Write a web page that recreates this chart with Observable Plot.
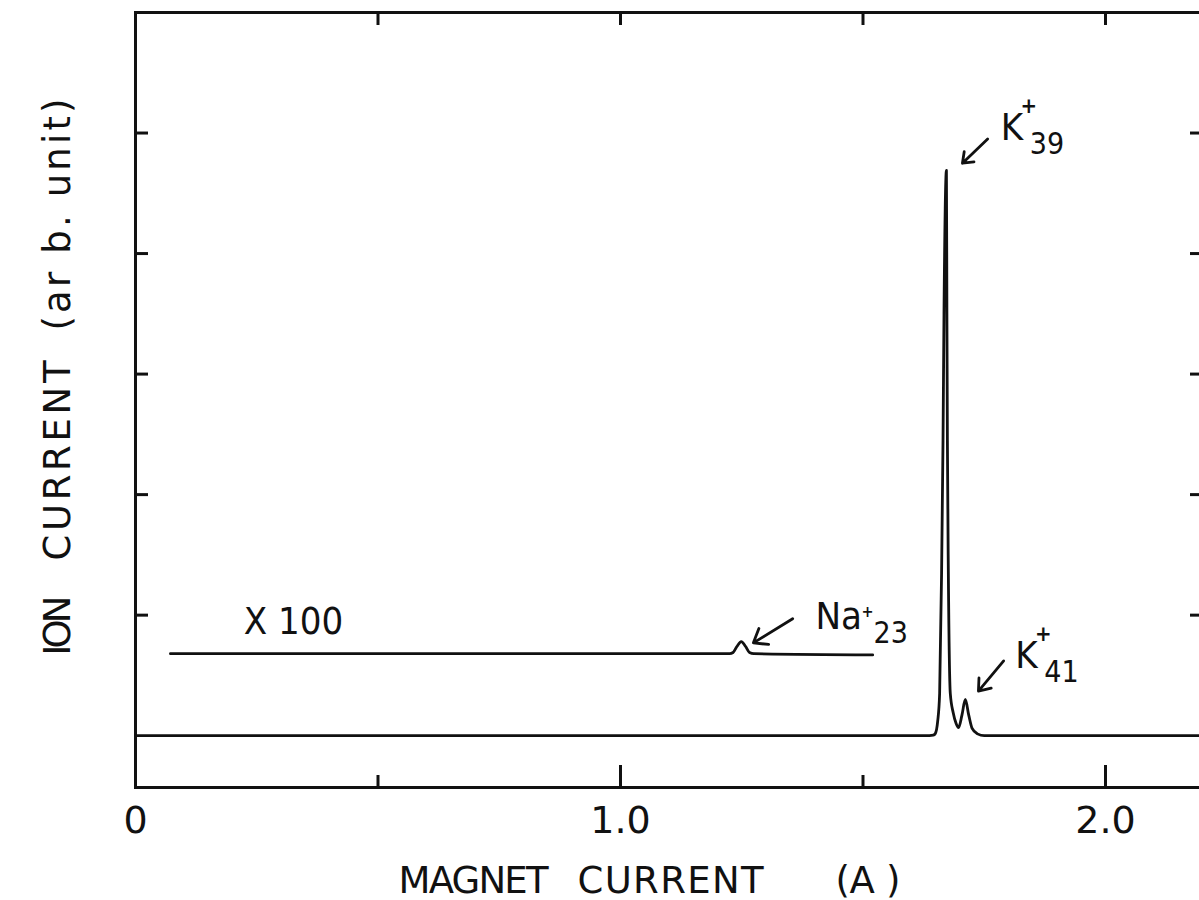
<!DOCTYPE html>
<html>
<head>
<meta charset="utf-8">
<script src="https://cdn.jsdelivr.net/npm/d3@7"></script>
<script src="https://cdn.jsdelivr.net/npm/@observablehq/plot@0.6"></script>
<style>
  html, body { margin: 0; padding: 0; background: #fff; overflow: hidden; }
  #chart svg { display: block; }
</style>
</head>
<body>
<div id="chart"></div>
<script>
// Mass spectrum: ion current versus magnet current (A).
// Main trace (x1) showing the K+ isotopes.
const spectrumX = [0.000, 1.600, 1.629, 1.645, 1.649, 1.654, 1.658, 1.662, 1.665, 1.667, 1.672,
                   1.673, 1.674, 1.676, 1.680, 1.686, 1.692, 1.697, 1.704, 1.711, 1.718, 1.725,
                   1.736, 1.750, 2.200];
const spectrumY = [0.00, 0.00, 0.00, 0.005, 0.017, 0.12, 0.35, 1.34, 2.45, 3.50, 4.69,
                   3.50, 2.45, 1.34, 0.35, 0.19, 0.10, 0.066, 0.17, 0.30, 0.17, 0.06,
                   0.015, 0.00, 0.00];

// Magnified (x100) trace, offset above the baseline, showing Na+.
const zoomX = [0.072, 1.225, 1.232, 1.240, 1.249, 1.258, 1.266, 1.275, 1.520];
const zoomY = [0.68, 0.68, 0.69, 0.74, 0.78, 0.74, 0.69, 0.68, 0.67];
const zoomFactorLabel = "X 100";
const zoomLabelX = 0.223;
const zoomLabelY = 0.846;

// Peak labels: element, charge, mass number, label anchor and arrow ends (data units).
const peakNames   = ["K", "Na", "K"];
const peakCharges = ["+", "+", "+"];
const peakMasses  = ["39", "23", "41"];
const labelX      = [1.784, 1.402, 1.814];
const labelY      = [4.94, 0.888, 0.564];
const arrowFromX  = [1.757, 1.355, 1.790];
const arrowFromY  = [4.95, 0.97, 0.62];
const arrowToX    = [1.705, 1.274, 1.738];
const arrowToY    = [4.75, 0.77, 0.37];

// Axis ticks and titles
const xMajorTicks = [1.0, 2.0];
const xMinorTicks = [0.5, 1.5];
const xTopTicks = [0.5, 1.0, 1.5, 2.0];
const xTickLabels = [0, 1.0, 2.0];
const yTicks = [1, 2, 3, 4, 5];
const xTitleWords = ["MAGNET", "CURRENT", "(A\u00a0)"];
const yTitleWords = ["ION", "CURRENT", "(ar\u00a0b.\u00a0unit)"];

const spectrum = spectrumX.map((x, i) => ({x, y: spectrumY[i]}));
const zoomed = zoomX.map((x, i) => ({x, y: zoomY[i]}));
const peaks = peakNames.map((name, i) => ({
  name, charge: peakCharges[i], mass: peakMasses[i],
  lx: labelX[i], ly: labelY[i],
  x1: arrowFromX[i], y1: arrowFromY[i], x2: arrowToX[i], y2: arrowToY[i]
}));

const W = 1199, H = 900;
const mL = 135, mR = -3, mT = 12, mB = 113;   // right edge of the frame runs just past the page
const plotW = W - mL - mR, plotH = H - mT - mB;
const ink = "#111";
const labelFont = "'DejaVu Sans Condensed', 'DejaVu Sans', sans-serif";
const axisFont = "'DejaVu Sans', sans-serif";

// Superscript charge and subscript mass number placed after the element symbol
const peakLabelMarks = peaks.flatMap(p => {
  const wide = p.name.length > 1;
  return [
    Plot.text([p], {x: "lx", y: "ly", text: "name", textAnchor: "start", lineAnchor: "bottom",
                    fontSize: 38, fill: ink}),
    Plot.text([p], {x: "lx", y: "ly", text: "charge", textAnchor: "middle", lineAnchor: "middle",
                    fontSize: wide ? 16 : 22, fontWeight: "bold", fill: ink,
                    dx: wide ? 52 : 28, dy: wide ? -17 : -34}),
    Plot.text([p], {x: "lx", y: "ly", text: "mass", textAnchor: "start", lineAnchor: "bottom",
                    fontSize: 30, fill: ink, dx: wide ? 58 : 29, dy: 14})
  ];
});

// Axis title words, each placed along its axis (letter spacing set below)
const xTitleOffsets = [263, 442, 700];
const xTitleLengths = [150, 186, 65];
const yTitleOffsets = [255.5, 160.5, -69.5];   // downward from the frame's vertical middle
const yTitleLengths = [60, 200, 232];
const titleMarks = [
  ...xTitleWords.map((w, i) => Plot.text([w], {
    frameAnchor: "bottom-left", textAnchor: "start", lineAnchor: "bottom",
    dx: xTitleOffsets[i], dy: 105, fontSize: 37, fontFamily: axisFont, fill: ink,
    title: () => "x" + i
  })),
  ...yTitleWords.map((w, i) => Plot.text([w], {
    frameAnchor: "left", textAnchor: "start", lineAnchor: "middle", rotate: -90,
    dx: -77, dy: yTitleOffsets[i], fontSize: 37, fontFamily: axisFont, fill: ink,
    title: () => "y" + i
  }))
];

const chart = Plot.plot({
  width: W,
  height: H,
  marginLeft: mL,
  marginRight: mR,
  marginTop: mT,
  marginBottom: mB,
  style: {fontFamily: labelFont, background: "#fff", color: ink},
  x: {domain: [0, 2.2], axis: null},
  y: {domain: [-0.43, 6], axis: null},
  marks: [
    Plot.frame({stroke: ink, strokeWidth: 3}),
    // inward ticks on all sides
    Plot.ruleX(xMajorTicks, {insetTop: plotH - 22, stroke: ink, strokeWidth: 3}),
    Plot.ruleX(xMinorTicks, {insetTop: plotH - 12, stroke: ink, strokeWidth: 3}),
    Plot.ruleX(xTopTicks, {insetBottom: plotH - 13, stroke: ink, strokeWidth: 3}),
    Plot.ruleY(yTicks, {insetRight: plotW - 13, stroke: ink, strokeWidth: 3}),
    Plot.ruleY(yTicks, {insetLeft: plotW - 12, stroke: ink, strokeWidth: 3}),
    // tick labels
    Plot.text(xTickLabels, {x: d => d, text: d => d === 0 ? "0" : d.toFixed(1),
                            frameAnchor: "bottom", lineAnchor: "bottom", dy: 45,
                            fontSize: 38, fontFamily: axisFont, fill: ink}),
    ...titleMarks,
    // traces
    Plot.line(spectrum, {x: "x", y: "y", stroke: ink, strokeWidth: 2.8, curve: "monotone-x"}),
    Plot.line(zoomed, {x: "x", y: "y", stroke: ink, strokeWidth: 2.8, curve: "monotone-x"}),
    Plot.text([zoomFactorLabel], {x: () => zoomLabelX, y: () => zoomLabelY, textAnchor: "start",
                                  lineAnchor: "bottom", fontSize: 38, fill: ink}),
    // peak arrows and labels
    Plot.arrow(peaks, {x1: "x1", y1: "y1", x2: "x2", y2: "y2", stroke: ink, strokeWidth: 2.8,
                       headLength: 14, headAngle: 75}),
    ...peakLabelMarks
  ]
});

// Fit the axis-title words to the widths of the hand lettering;
// the temporary <title> tags only identify the words and are removed.
d3.select(chart).selectAll("text").each(function () {
  const tip = this.querySelector("title");
  if (!tip) return;
  const key = tip.textContent;
  const i = +key.slice(1);
  const len = key[0] === "x" ? xTitleLengths[i] : yTitleLengths[i];
  tip.remove();
  d3.select(this).attr("textLength", len).attr("lengthAdjust", "spacing");
});

document.getElementById("chart").appendChild(chart);
</script>
</body>
</html>
